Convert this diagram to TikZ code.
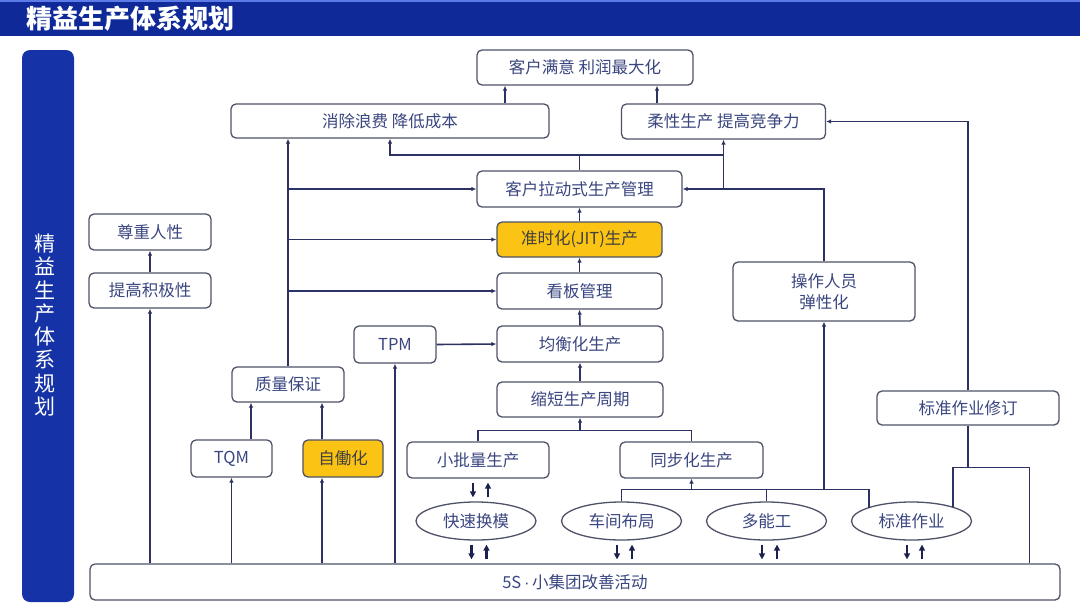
\documentclass[tikz,border=0pt]{standalone}
\usepackage{fontspec}
\newfontfamily\cjk{Noto Sans CJK SC}
\newfontfamily\lat{Liberation Sans}
\usetikzlibrary{shapes.geometric,arrows.meta,calc}
\definecolor{hdr}{HTML}{0F2A98}
\definecolor{hdrlight}{HTML}{5C7BE6}
\definecolor{barc}{HTML}{1533A6}
\definecolor{boxc}{HTML}{4E5266}
\definecolor{txtc}{HTML}{3A4680}
\definecolor{lnc}{HTML}{2E3262}
\definecolor{yelc}{HTML}{FBC313}
\definecolor{darc}{HTML}{1C2150}
\tikzset{
  box/.style={draw=boxc, line width=1.3pt, rounded corners=5pt, fill=white, text=txtc,
    font=\cjk\fontsize{16.5}{20}\selectfont, inner sep=0pt},
  ybox/.style={box, fill=yelc, text=black!75},
  ell/.style={ellipse, draw=boxc, line width=1.3pt, fill=white, text=txtc,
    font=\cjk\fontsize{16.5}{20}\selectfont, inner sep=0pt, minimum width=120pt, minimum height=38pt},
  ln/.style={draw=lnc, line width=1.6pt},
  arr/.style={ln, -{Latex[length=5pt,width=4.5pt]}},
  dar/.style={draw=darc, line width=2.2pt, -{Triangle[length=6pt,width=6pt]}, shorten <=4pt, shorten >=4pt}
}
\begin{document}
\begin{tikzpicture}[x=1pt,y=-1pt]
\useasboundingbox (0,0) rectangle (1080,614);
\fill[white] (0,0) rectangle (1080,614);
% header
\fill[hdr] (0,0) rectangle (1080,36);
\draw[hdrlight, line width=1.5pt] (0,1) -- (1080,1);
\node[anchor=west, text=white, inner sep=0pt, font=\cjk\bfseries\fontsize{26}{26}\selectfont] (title) at (26,19) {精益生产体系规划};
% side bar
\node[fill=barc, rounded corners=8pt, minimum width=52pt, minimum height=552pt, inner sep=0pt] (side) at (48,326) {};
\node[text=white, align=center, inner sep=0pt, font=\cjk\fontsize{21}{23.3}\selectfont] (sidetxt) at (45,325) {精\\益\\生\\产\\体\\系\\规\\划};
% nodes
\node[box, minimum width=216pt, minimum height=35pt] (kh) at (585,67.5) {客户满意 利润最大化};
\node[box, minimum width=318pt, minimum height=34pt] (xc) at (390,121) {消除浪费 降低成本};
\node[box, minimum width=204pt, minimum height=35pt] (rx) at (723.5,121.5) {柔性生产 提高竞争力};
\node[box, minimum width=205pt, minimum height=36pt] (kl) at (579.5,189) {客户拉动式生产管理};
\node[ybox, minimum width=165pt, minimum height=35pt] (jit) at (579.5,239.5) {准时化(JIT)生产};
\node[box, minimum width=165pt, minimum height=36pt] (kb) at (579.5,291) {看板管理};
\node[box, minimum width=166pt, minimum height=36pt] (jh) at (580,344) {均衡化生产};
\node[box, minimum width=82pt, minimum height=37pt] (tpm) at (395,344.5) {TPM};
\node[box, minimum width=166pt, minimum height=35pt] (sd) at (580,399.5) {缩短生产周期};
\node[box, minimum width=142pt, minimum height=36pt] (xpl) at (478,460) {小批量生产};
\node[box, minimum width=143pt, minimum height=36pt] (tb) at (691.5,460) {同步化生产};
\node[ell] (ks) at (476,521) {快速换模};
\node[ell] (cj) at (621.5,521) {车间布局};
\node[ell] (dn) at (766.5,521) {多能工};
\node[ell] (bz) at (911.5,521) {标准作业};
\node[box, minimum width=970pt, minimum height=36pt] (ss) at (575,582) {5S{\lat\,·\,}小集团改善活动};
\node[box, minimum width=182pt, minimum height=34pt] (bx) at (968,408) {标准作业修订};
\node[box, minimum width=182pt, minimum height=59pt, align=center, font=\cjk\fontsize{16.5}{21}\selectfont] (cz) at (824,291.5) {操作人员\\弹性化};
\node[box, minimum width=122pt, minimum height=36pt] (zz) at (150,232) {尊重人性};
\node[box, minimum width=122pt, minimum height=35pt] (tg) at (150,290.5) {提高积极性};
\node[box, minimum width=112pt, minimum height=35pt] (zl) at (288,384.5) {质量保证};
\node[box, minimum width=81pt, minimum height=37pt] (tqm) at (231.5,458.5) {TQM};
\node[ybox, minimum width=80pt, minimum height=37pt] (zd) at (343,458.5) {自働化};
% top connectors
\draw[arr] ([xshift=-80]kh.south |- xc.north) -- ([xshift=-80]kh.south);
\draw[arr] ([xshift=72]kh.south |- rx.north) -- ([xshift=72]kh.south);
\coordinate (t1) at ($(kl.north)+(0,-15.5)$);
\draw[arr] (kl.north) -- (t1) -| (xc.south);
\draw[ln] (t1) -- (t1 -| rx.south);
\draw[arr] (kl.east -| rx.south) -- (rx.south);
\draw[arr] (cz.north) |- (kl.east);
\draw[arr] (bx.north) |- (rx.east);
% left trunk
\draw[arr] (zl.north) -- (zl.north |- xc.south);
\draw[arr] (zl.north |- kl.west) -- (kl.west);
\draw[arr] (zl.north |- jit.west) -- (jit.west);
\draw[arr] (zl.north |- kb.west) -- (kb.west);
% centre column
\draw[arr] (tpm.east) -- (jh.west);
\draw[arr] (jit.north) -- (kl.south);
\draw[arr] (kb.north) -- (jit.south);
\draw[arr] (jh.north) -- (kb.south);
\draw[arr] (sd.north) -- (jh.south);
\coordinate (t2) at ($(sd.south)+(0,13)$);
\draw[ln] (xpl.north) -- (xpl.north |- t2) -- (tb.north |- t2) -- (tb.north);
\draw[arr] (t2) -- (sd.south);
% lower right tree
\coordinate (t3) at ($(tb.south)+(0,11)$);
\coordinate (bzL) at ($(bz.center)+(-42.5,-13.3)$);
\coordinate (bzR) at ($(bz.center)+(41.5,-13.6)$);
\draw[arr] (t3) -- (tb.south);
\draw[ln] (cj.north) -- (cj.north |- t3) -- (t3 -| bzL) -- (bzL);
\draw[ln] (dn.north) -- (dn.north |- t3);
\draw[arr] (cz.south |- t3) -- (cz.south);
\coordinate (t4) at ($(bx.south)+(0,42)$);
\coordinate (ssR) at ($(ss.north east)+(-31,0)$);
\draw[ln] (bzR) |- (t4) -| (ssR);
\draw[ln] (bx.south) -- (t4);
% left bottom connectors
\draw[arr] (tg.south |- ss.north) -- (tg.south);
\draw[arr] (tg.north) -- (zz.south);
\draw[arr] (tqm.south |- ss.north) -- (tqm.south);
\draw[arr] ([xshift=-21]zd.south |- ss.north) -- ([xshift=-21]zd.south);
\draw[arr] ([xshift=-21]zd.north) -- ([xshift=-21]zd.north |- zl.south);
\draw[arr] ([xshift=19.5]tqm.north) -- ([xshift=19.5]tqm.north |- zl.south);
\draw[arr] (tpm.south |- ss.north) -- (tpm.south);
% double arrows
\draw[dar] ([xshift=-5]xpl.south) -- ([xshift=-5]xpl.south |- ks.north);
\draw[dar] ([xshift=10]xpl.south |- ks.north) -- ([xshift=10]xpl.south);
\foreach \e in {ks,cj,dn,bz}{
  \draw[dar] ([xshift=-4.5]\e.south) -- ([xshift=-4.5]\e.south |- ss.north);
  \draw[dar] ([xshift=10.5]\e.south |- ss.north) -- ([xshift=10.5]\e.south);
}
\end{tikzpicture}
\end{document}
